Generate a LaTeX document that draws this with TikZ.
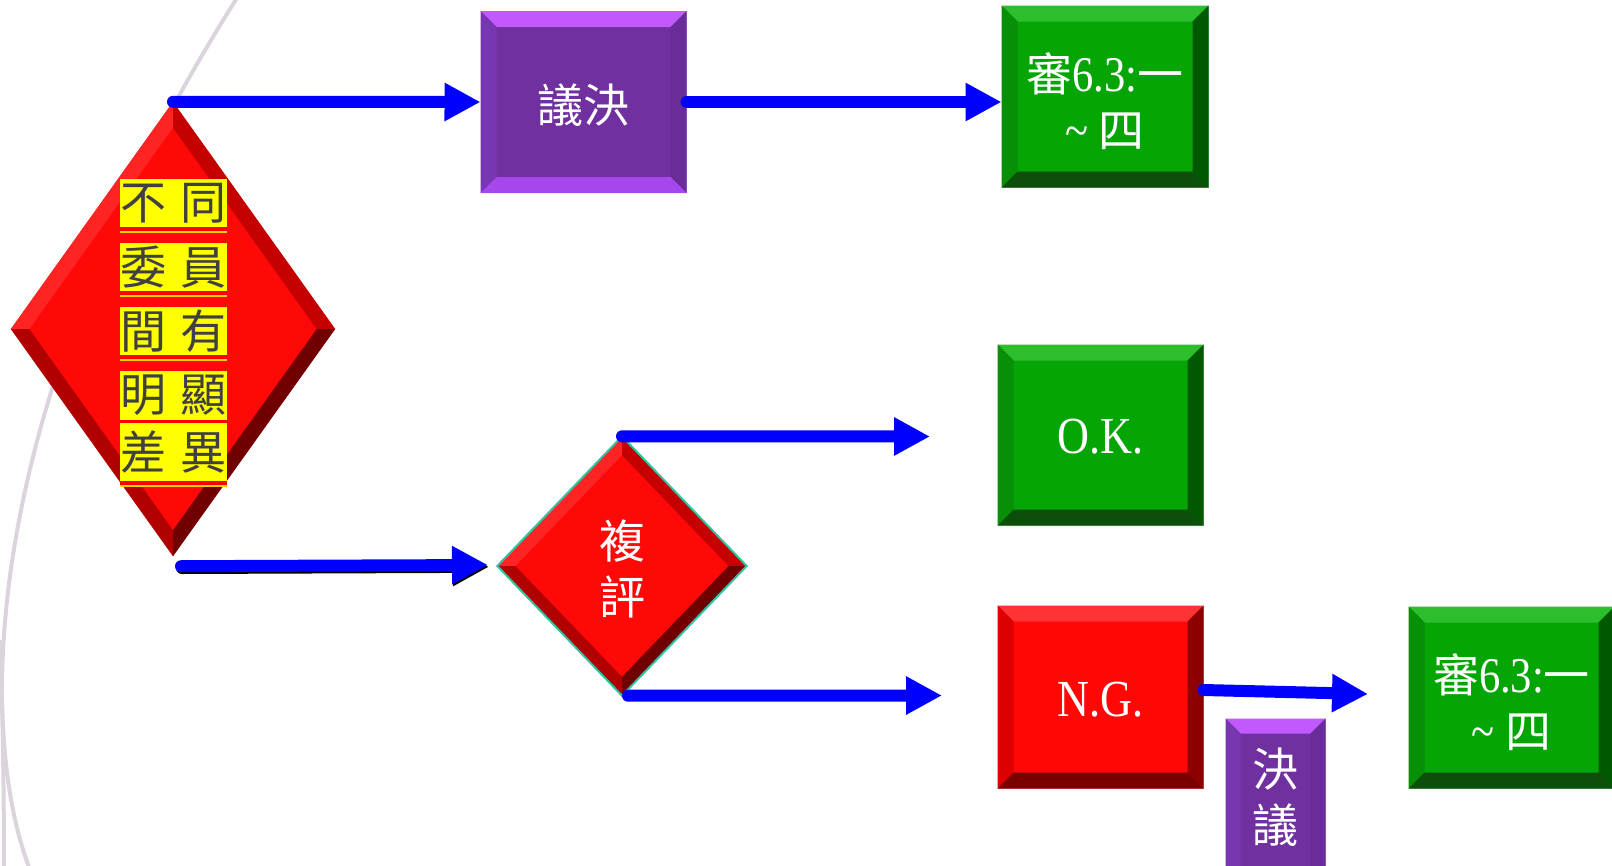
\documentclass[tikz,border=0pt]{standalone}
\usepackage{fontspec}
\setmainfont{Liberation Serif}[FakeStretch=0.85]
\newfontfamily\cjk{Noto Sans CJK TC}[Scale=0.92]
\usetikzlibrary{shapes.geometric,arrows.meta,calc}
\definecolor{gbase}{HTML}{05A505}\definecolor{gtop}{HTML}{2DBE2D}\definecolor{gleft}{HTML}{078F07}
\definecolor{gright}{HTML}{005800}\definecolor{gbot}{HTML}{0B4F0B}\definecolor{gline}{HTML}{86CC86}
\definecolor{rbase}{HTML}{FF0707}\definecolor{rtop}{HTML}{FF3333}\definecolor{rleft}{HTML}{DD0000}
\definecolor{rright}{HTML}{8C0000}\definecolor{rbot}{HTML}{7A0000}\definecolor{rline}{HTML}{FF9090}
\definecolor{pbase}{HTML}{7030A0}\definecolor{ptop}{HTML}{C05AFF}\definecolor{pleft}{HTML}{7836B0}
\definecolor{pright}{HTML}{6A2D98}\definecolor{pbot}{HTML}{A647EE}\definecolor{pline}{HTML}{C890F0}
\definecolor{dbase}{HTML}{FF0808}\definecolor{dUL}{HTML}{FF2424}\definecolor{dUR}{HTML}{C40000}
\definecolor{dLR}{HTML}{700000}\definecolor{dLL}{HTML}{B00000}
\definecolor{arcgray}{HTML}{DCD4DC}\definecolor{txtgray}{HTML}{404040}\definecolor{teal2}{HTML}{30C4A4}
\definecolor{ylw}{HTML}{FFFF00}\definecolor{ylwline}{HTML}{FFD000}
\newcommand\mybevel[6]{%
 \fill[#3] (#1.north west) -- (#1.north east) -- ([shift={(-#2,#2)}]#1.north east) -- ([shift={(#2,#2)}]#1.north west) -- cycle;
 \fill[#4] (#1.north west) -- ([shift={(#2,#2)}]#1.north west) -- ([shift={(#2,-#2)}]#1.south west) -- (#1.south west) -- cycle;
 \fill[#5] (#1.north east) -- ([shift={(-#2,#2)}]#1.north east) -- ([shift={(-#2,-#2)}]#1.south east) -- (#1.south east) -- cycle;
 \fill[#6] (#1.south west) -- ([shift={(#2,-#2)}]#1.south west) -- ([shift={(-#2,-#2)}]#1.south east) -- (#1.south east) -- cycle;
}
\newcommand\mydbevel[2]{%
 \coordinate (#1iN) at ($(#1.center)!#2!(#1.north)$);
 \coordinate (#1iS) at ($(#1.center)!#2!(#1.south)$);
 \coordinate (#1iW) at ($(#1.center)!#2!(#1.west)$);
 \coordinate (#1iE) at ($(#1.center)!#2!(#1.east)$);
 \fill[dUL] (#1.west) -- (#1.north) -- (#1iN) -- (#1iW) -- cycle;
 \fill[dUR] (#1.north) -- (#1.east) -- (#1iE) -- (#1iN) -- cycle;
 \fill[dLR] (#1.east) -- (#1.south) -- (#1iS) -- (#1iE) -- cycle;
 \fill[dLL] (#1.south) -- (#1.west) -- (#1iW) -- (#1iS) -- cycle;
}
\begin{document}
\begin{tikzpicture}[x=1pt,y=-1pt,
  boxn/.style={rectangle, inner sep=0pt, minimum width=205pt, minimum height=181pt, line width=1pt},
  dnode/.style={diamond, inner sep=0pt, fill=dbase},
  arr/.style={draw=blue, line width=12pt, line cap=round, -{Triangle[length=36pt,width=36pt]}},
  wtext/.style={text=white, align=center, inner sep=0pt, font={\fontsize{50}{56}\selectfont}},
  yrow/.style={rectangle, fill=ylw, text=txtgray, inner sep=0pt, minimum width=107pt, font={\cjk\fontsize{50}{50}\selectfont}},
  arcline/.style={draw=arcgray, line width=4pt}
]
\useasboundingbox (0,0) rectangle (1612,865);
\clip (0,0) rectangle (1612,865);
% background template arcs
\draw[arcline] (237,-2) .. controls (90,230) and (0,480) .. (2,700) .. controls (4,780) and (15,830) .. (30,870);
\draw[arcline] (0,640) .. controls (3,720) and (4,800) .. (4,870);

% big decision diamond
\node[dnode, minimum width=324pt, minimum height=454pt] (d1) at (173,329) {};
\mydbevel{d1}{0.886}
\foreach \n/\y/\h/\t in {r1/203/48/{不\hspace{14pt}同}, r2/267/48/{委\hspace{14pt}員}, r3/331/48/{間\hspace{14pt}有}, r4/395.5/49/{明\hspace{14pt}顯}, r5/452/58/{差\hspace{14pt}異}}{
  \node[yrow, minimum height=\h pt] (\n) at (173.5,\y) {\t};
  \fill[red] (\n.south west) rectangle ([yshift=-3.5pt]\n.south east);
  \fill[ylwline] ([yshift=-3.5pt]\n.south west) rectangle ([yshift=-5.5pt]\n.south east);
}

% boxes
\node[boxn, fill=pbase, draw=pline] (vote) at (583.5,102) {};
\mybevel{vote}{16}{ptop}{pleft}{pright}{pbot}
\node[wtext] (votet) at (583.5,105) {\cjk 議決};

\node[boxn, fill=gbase, draw=gline, minimum width=206pt] (g1) at (1105,96.5) {};
\mybevel{g1}{16}{gtop}{gleft}{gright}{gbot}
\node[wtext] (g1t) at (1105,101) {{\cjk 審}6.3:{\cjk 一}\\\textasciitilde{} {\cjk 四}};

\node[boxn, fill=gbase, draw=gline, minimum height=180pt] (ok) at (1100.5,435) {};
\mybevel{ok}{16}{gtop}{gleft}{gright}{gbot}
\node[wtext, font={\fontsize{52}{56}\selectfont}] (okt) at (1100.5,437) {O.K.};

\node[boxn, fill=rbase, draw=rline, minimum height=182pt] (ng) at (1100.5,697) {};
\mybevel{ng}{16}{rtop}{rleft}{rright}{rbot}
\node[wtext, font={\fontsize{52}{56}\selectfont}] (ngt) at (1100.5,700) {N.G.};

\node[boxn, fill=gbase, draw=gline, minimum height=181pt] (g3) at (1511.5,697.5) {};
\mybevel{g3}{16}{gtop}{gleft}{gright}{gbot}
\node[wtext] (g3t) at (1511.5,702) {{\cjk 審}6.3:{\cjk 一}\\\textasciitilde{} {\cjk 四}};

\node[boxn, fill=pbase, draw=pline, minimum width=99pt, minimum height=181pt] (vote2) at (1275.5,809.5) {};
\mybevel{vote2}{15}{ptop}{pleft}{pright}{pbot}
\node[wtext] (vote2t) at (1275.5,797) {\cjk 決\\\cjk 議};

% review diamond
\node[dnode, minimum width=249pt, minimum height=259pt] (d2) at (622,566) {};
\mydbevel{d2}{0.855}
\draw[teal2, line width=2pt] (d2.west) -- (d2.north) -- (d2.east) -- (d2.south) -- cycle;
\node[wtext] (d2t) at (622,569) {\cjk 複\\\cjk 評};

% connectors
\coordinate (a3s) at ([shift={(8,10)}]d1.south);
\coordinate (a3e) at (488,565);
\coordinate (okin) at (930,436.5);
\coordinate (ngin) at (942,695.5);
\coordinate (g3in) at (1368,694);
\draw[arr] (d1.north) -- (vote.west);
\draw[arr] (vote.east) -- (vote.east -| g1.west);
\draw[arr, draw=black] ([shift={(1,1.8)}]a3s) -- ([shift={(1,1.8)}]a3e);
\draw[arr] (a3s) -- (a3e);
\draw[arr] (d2.north) -- (okin);
\draw[arr] ([xshift=6pt]d2.south) -- (ngin);
\draw[arr] ([yshift=7pt]ng.east) -- (g3in);
\end{tikzpicture}
\end{document}
